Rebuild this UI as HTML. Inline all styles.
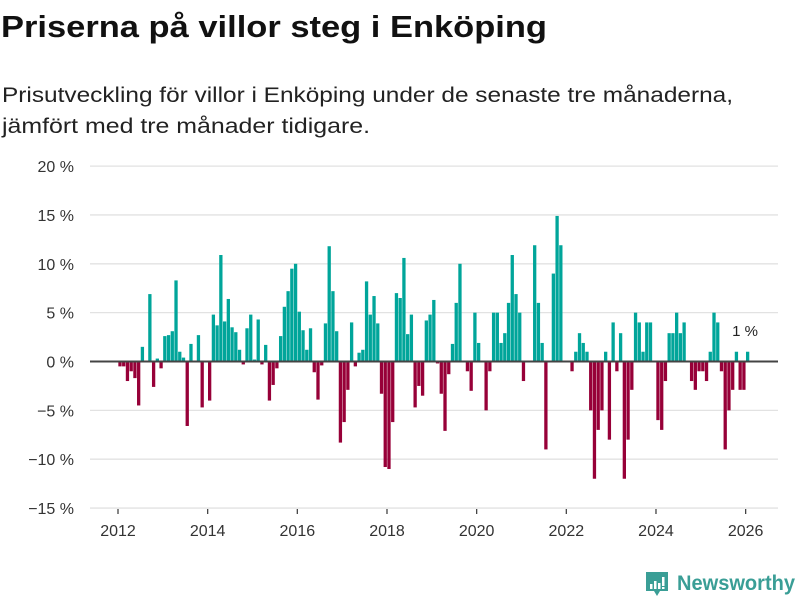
<!DOCTYPE html>
<html><head><meta charset="utf-8"><style>
body{margin:0;background:#fff;}
svg{display:block;font-family:"Liberation Sans","DejaVu Sans",sans-serif;}
</style></head><body>
<svg id="chart" width="800" height="600" viewBox="0 0 800 600">
<text x="1" y="37" font-size="31" font-weight="bold" fill="#111" textLength="546" lengthAdjust="spacingAndGlyphs">Priserna på villor steg i Enköping</text>
<text x="2" y="102" font-size="21" fill="#222" textLength="731" lengthAdjust="spacingAndGlyphs">Prisutveckling för villor i Enköping under de senaste tre månaderna,</text>
<text x="2" y="133" font-size="21" fill="#222" textLength="368" lengthAdjust="spacingAndGlyphs">jämfört med tre månader tidigare.</text>
<g id="grid"></g>
<g id="bars"></g>
<g id="xaxis"></g>
<text x="745" y="336" font-size="15" fill="#222" text-anchor="middle">1 %</text>
<g>
<path d="M646 572 h22 v19 h-8 l-3 5 l-3 -5 h-8 z" fill="#3a9e96"/>
<rect x="650" y="584" width="2.5" height="5" fill="#fff"/><rect x="654" y="581" width="2.5" height="8" fill="#fff"/><rect x="658" y="583" width="2.5" height="6" fill="#fff"/><rect x="662" y="577" width="2.5" height="9" fill="#fff"/><rect x="662" y="587" width="2.5" height="2" fill="#fff"/>
<text x="677" y="590" font-size="21" font-weight="bold" fill="#3a9e96" textLength="118" lengthAdjust="spacingAndGlyphs">Newsworthy</text>
</g>
</svg>
<script>
const startYear = 2012;
const yTicks = [20, 15, 10, 5, 0, -5, -10, -15];
const xTickYears = [2012, 2014, 2016, 2018, 2020, 2022, 2024, 2026];
const values = [0,-0.5,-0.5,-2.0,-1.0,-1.7,-4.5,1.5,0,6.9,-2.6,0.3,-0.7,2.6,2.7,3.1,8.3,1.0,0.4,-6.6,1.8,0,2.7,-4.7,0,-4.0,4.8,3.7,10.9,4.1,6.4,3.5,3.0,1.2,-0.3,3.4,4.8,0.2,4.3,-0.3,1.7,-4.0,-2.4,-0.7,2.6,5.6,7.2,9.5,10.0,5.1,3.2,1.2,3.4,-1.1,-3.9,-0.4,3.9,11.8,7.2,3.1,-8.3,-6.2,-2.9,4.0,-0.5,0.9,1.2,8.2,4.8,6.7,3.9,-3.3,-10.8,-11.0,-6.2,7.0,6.5,10.6,2.8,4.8,-4.7,-2.5,-3.5,4.2,4.8,6.3,-0.2,-3.3,-7.1,-1.3,1.8,6.0,10.0,0,-1.0,-3.0,5.0,1.9,0,-5.0,-1.0,5.0,5.0,1.9,2.9,6.0,10.9,6.9,5.0,-2.0,0,0,11.9,6.0,1.9,-9.0,0,9.0,14.9,11.9,0,0,-1.0,1.0,2.9,1.9,1.0,-5.0,-12.0,-7.0,-5.0,1.0,-8.0,4.0,-1.0,2.9,-12.0,-8.0,-2.9,5.0,4.0,1.0,4.0,4.0,0,-6.0,-7.0,-2.0,2.9,2.9,5.0,2.9,4.0,0,-2.0,-2.9,-1.0,-1.0,-2.0,1.0,5.0,4.0,-1.0,-9.0,-5.0,-2.9,1.0,-2.9,-2.9,1.0];

const NS = "http://www.w3.org/2000/svg";
const yScale = v => 361.5 - v * 9.77;
const xScale = m => 118 + m * 3.736;
function mk(tag, attrs){const e=document.createElementNS(NS,tag);for(const k in attrs)e.setAttribute(k,attrs[k]);return e;}

const grid = document.getElementById('grid');
yTicks.forEach(t => {
  const y = yScale(t);
  if (t !== 0) {
    const l = mk('line',{x1:90,x2:778,y1:y,y2:y,stroke:'#e2e2e2','stroke-width':1.3});
    
    
    grid.appendChild(l);
  }
  const tx = mk('text',{x:74,y:y+6,'font-size':16,fill:'#333','text-anchor':'end'});
  tx.textContent = (t < 0 ? '\u2212' + Math.abs(t) : t) + ' %';
  
  
  grid.appendChild(tx);
});

const bars = document.getElementById('bars');
values.forEach((v, i) => {
  if (v === 0) return;
  const x = xScale(i) - 3.4;
  const y0 = yScale(0), y1 = yScale(v);
  const r = mk('rect',{x:x,y:Math.min(y0,y1),width:3.3,height:Math.abs(y1-y0),fill:v>0?'#00a59a':'#970038'});
  
  
  bars.appendChild(r);
});
const zl = mk('line',{x1:90,x2:778,y1:yScale(0),y2:yScale(0),stroke:'#444','stroke-width':2});


bars.appendChild(zl);

const xa = document.getElementById('xaxis');
xTickYears.forEach(yr => {
  const x = xScale((yr - startYear) * 12);
  const tk = mk('line',{x1:x,x2:x,y1:509,y2:514,stroke:'#444','stroke-width':1.3});
  
  
  xa.appendChild(tk);
  const tx = mk('text',{x:x,y:536,'font-size':16,fill:'#333','text-anchor':'middle'});
  tx.textContent = yr;
  
  
  xa.appendChild(tx);
});
</script>
</body></html>
